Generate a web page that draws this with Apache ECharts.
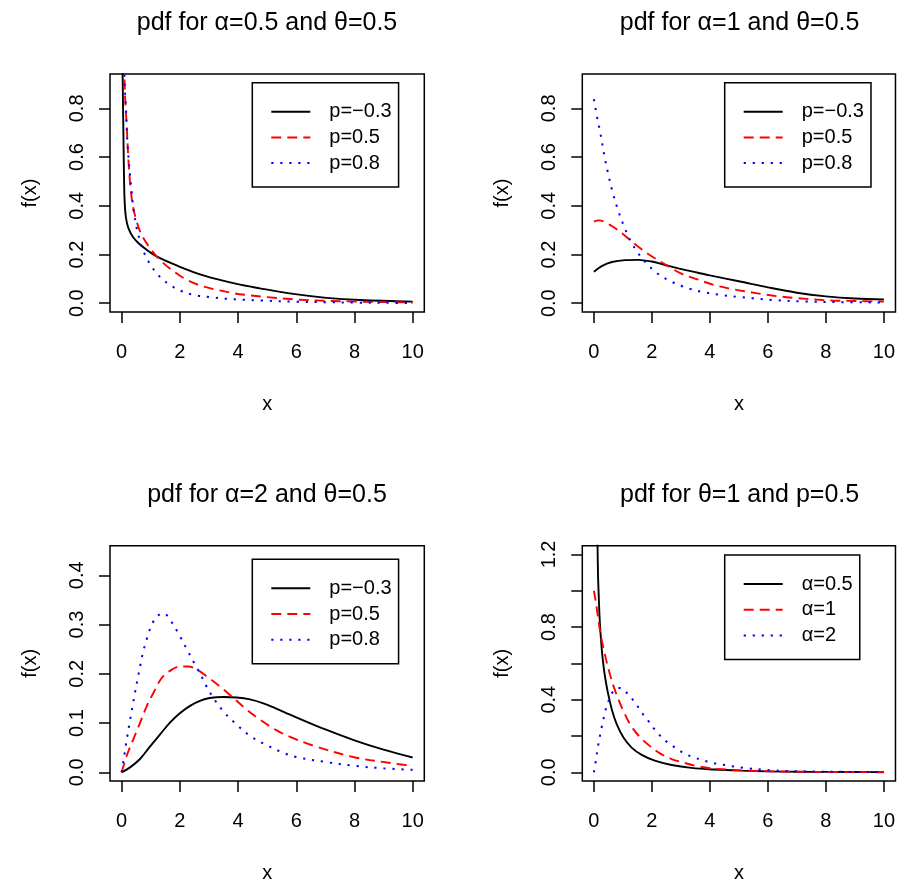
<!DOCTYPE html>
<html>
<head>
<meta charset="utf-8">
<script src="https://cdn.jsdelivr.net/npm/echarts@6/dist/echarts.min.js"></script>
<style>html,body{margin:0;padding:0;background:#fff}#c{width:898px;height:884px}</style>
</head>
<body>
<div id="c"></div>
<script>
// ---------------- data ----------------
const titles = ['pdf for \u03b1=0.5 and \u03b8=0.5', 'pdf for \u03b1=1 and \u03b8=0.5', 'pdf for \u03b1=2 and \u03b8=0.5', 'pdf for \u03b8=1 and p=0.5'];
const legendP = ['p=\u22120.3', 'p=0.5', 'p=0.8'];
const legendA = ['\u03b1=0.5', '\u03b1=1', '\u03b1=2'];
const xTicks = [0, 2, 4, 6, 8, 10];
const yTicksA = [0, 0.2, 0.4, 0.6, 0.8];
const yTicksC = [0, 0.1, 0.2, 0.3, 0.4];
const yTicksD = [0, 0.2, 0.4, 0.6, 0.8, 1.0, 1.2];
const yLabelsD = [0, 0.4, 0.8, 1.2];

// panel 1: alpha=0.5, theta=0.5
const p1Neg03 = [[0.02,1.5],[0.034,0.94],[0.057,0.734],[0.08,0.528],[0.103,0.418],[0.149,0.35],[0.229,0.309],[0.378,0.274],[0.573,0.247],[0.859,0.219],[1.2,0.192],[1.89,0.155],[2.81,0.114],[3.95,0.079],[4.75,0.061],[5.9,0.038],[7.04,0.022],[8.19,0.013],[10,0.0066]];
const p1P05 = [[0.07,1.05],[0.115,0.857],[0.172,0.734],[0.229,0.597],[0.286,0.5],[0.378,0.405],[0.515,0.336],[0.687,0.281],[0.974,0.226],[1.317,0.178],[1.718,0.137],[2.176,0.1],[2.692,0.073],[3.265,0.055],[3.84,0.041],[4.41,0.032],[4.98,0.025],[6,0.015],[7,0.01],[8,0.0065],[9,0.0045],[10,0.003]];
const p1P08 = [[0.08,1.05],[0.103,0.9],[0.149,0.8],[0.195,0.665],[0.286,0.528],[0.344,0.46],[0.4,0.39],[0.515,0.309],[0.573,0.281],[0.687,0.233],[0.859,0.185],[1.03,0.151],[1.2,0.123],[1.43,0.096],[1.66,0.075],[1.95,0.055],[2.46,0.034],[3.04,0.025],[3.61,0.018],[4.18,0.014],[4.75,0.011],[6,0.006],[7,0.004],[8,0.0025],[9,0.0015],[10,0.001]];

// panel 2: alpha=1, theta=0.5
const p2Neg03 = [[0,0.129],[0.27,0.152],[0.62,0.169],[1.08,0.177],[1.53,0.178],[1.99,0.171],[2.45,0.157],[3.02,0.14],[3.59,0.125],[4.0,0.114],[5.0,0.09],[6.0,0.065],[7.0,0.043],[8.0,0.028],[9.0,0.019],[10,0.015]];
const p2P05 = [[0,0.335],[0.16,0.34],[0.62,0.317],[1.08,0.276],[1.53,0.232],[1.99,0.193],[2.56,0.152],[3.02,0.121],[3.59,0.097],[4.16,0.074],[4.73,0.059],[5.3,0.047],[5.87,0.036],[6.44,0.027],[7.01,0.021],[7.65,0.015],[8.22,0.011],[8.79,0.0095],[9.36,0.008],[10,0.0065]];
const p2P08 = [[0,0.838],[0.1,0.77],[0.22,0.7],[0.37,0.6],[0.5,0.527],[0.64,0.458],[0.81,0.39],[1.01,0.324],[1.25,0.259],[1.5,0.21],[1.74,0.173],[2.16,0.125],[2.68,0.088],[3.23,0.062],[3.8,0.045],[4.37,0.034],[4.97,0.026],[5.5,0.02],[6.16,0.013],[7.3,0.007],[8.45,0.0044],[10,0.003]];

// panel 3: alpha=2, theta=0.5
const p3Neg03 = [[0,0],[0.29,0.01],[0.63,0.027],[0.97,0.052],[1.32,0.077],[1.66,0.101],[2.0,0.12],[2.35,0.135],[2.69,0.145],[3.03,0.151],[3.5,0.153],[3.96,0.152],[4.41,0.148],[4.87,0.14],[5.33,0.129],[5.79,0.117],[7,0.087],[8,0.065],[9,0.046],[10,0.03]];
const p3P05 = [[0,0],[0.17,0.033],[0.4,0.067],[0.63,0.1],[0.86,0.134],[1.09,0.161],[1.37,0.191],[1.66,0.206],[2.0,0.215],[2.29,0.215],[2.58,0.209],[2.92,0.195],[3.38,0.174],[3.84,0.151],[4.3,0.127],[4.75,0.107],[5.33,0.085],[5.79,0.072],[6.59,0.054],[7.96,0.031],[9.34,0.018],[10,0.013]];
const p3P08 = [[0,0],[0.06,0.022],[0.11,0.042],[0.19,0.072],[0.29,0.106],[0.38,0.136],[0.46,0.162],[0.55,0.19],[0.65,0.22],[0.74,0.245],[0.86,0.27],[0.95,0.287],[1.06,0.303],[1.26,0.319],[1.45,0.323],[1.66,0.31],[1.95,0.282],[2.23,0.251],[2.52,0.219],[2.75,0.194],[2.92,0.174],[3.21,0.146],[3.55,0.12],[3.95,0.097],[4.41,0.074],[4.92,0.057],[5.5,0.041],[6,0.031],[7,0.021],[8,0.013],[9,0.008],[10,0.005]];

// panel 4: theta=1, p=0.5
const p4A05 = [[0.1,1.6],[0.126,1.25],[0.14,1.1],[0.16,1.0],[0.2,0.84],[0.25,0.72],[0.3,0.63],[0.37,0.54],[0.48,0.44],[0.62,0.345],[0.79,0.264],[1.02,0.191],[1.3,0.136],[1.65,0.096],[2.1,0.064],[2.68,0.04],[3.36,0.024],[4.16,0.015],[5.08,0.009],[6,0.005],[7,0.003],[8,0.002],[10,0.001]];
const p4A1 = [[0,1.0],[0.05,0.955],[0.1,0.9],[0.18,0.81],[0.27,0.727],[0.35,0.67],[0.45,0.6],[0.56,0.536],[0.68,0.473],[0.85,0.4],[1.02,0.336],[1.25,0.264],[1.53,0.204],[1.88,0.151],[2.28,0.104],[2.68,0.073],[3.14,0.051],[3.59,0.033],[4.16,0.02],[4.85,0.013],[5.3,0.009],[6,0.006],[7,0.003],[8,0.0015],[10,0.0005]];
const p4A2 = [[0,0],[0.05,0.045],[0.09,0.091],[0.14,0.142],[0.19,0.185],[0.25,0.236],[0.31,0.276],[0.37,0.324],[0.45,0.367],[0.56,0.415],[0.7,0.453],[0.85,0.464],[1.0,0.46],[1.17,0.43],[1.36,0.396],[1.53,0.358],[1.7,0.318],[1.88,0.282],[2.05,0.245],[2.24,0.209],[2.45,0.176],[2.68,0.149],[2.93,0.122],[3.19,0.098],[3.46,0.082],[3.73,0.067],[4.02,0.055],[4.3,0.045],[4.59,0.038],[4.87,0.031],[5.16,0.025],[6,0.012],[7,0.006],[8,0.003],[10,0.001]];

// ---------------- layout & style ----------------
const FONT = '"Liberation Sans", Arial, Helvetica, sans-serif';
const panels = [
  {left:110, top:74, w:314.3, h:238, ymin:-0.0362, ymax:0.9412, yt:yTicksA, yl:yTicksA, leg:{left:252.3, top:82.7}, names:legendP, data:[p1Neg03,p1P05,p1P08], tx:267, ty:10.5},
  {left:582.3, top:74, w:314.6, h:238, ymin:-0.0362, ymax:0.9412, yt:yTicksA, yl:yTicksA, leg:{left:724.7, top:82.7}, names:legendP, data:[p2Neg03,p2P05,p2P08], tx:739.6, ty:10.5},
  {left:110, top:545.7, w:314.3, h:238.3, ymin:-0.0177, ymax:0.4602, yt:yTicksC, yl:yTicksC, leg:{left:252.3, top:559.3}, names:legendP, data:[p3Neg03,p3P05,p3P08], tx:267, ty:482.5},
  {left:582.3, top:545.7, w:314.6, h:238.3, ymin:-0.048, ymax:1.248, yt:yTicksD, yl:yLabelsD, leg:{left:724.7, top:555}, names:legendA, data:[p4A05,p4A1,p4A2], tx:739.6, ty:482.5}
];
const styles = [
  {color:'#000000', type:'solid', width:1.9},
  {color:'#ff0000', type:[10,6], width:1.9},
  {color:'#0000ff', type:[2.2,6.8], width:2}
];

const grid = [], xAxis = [], yAxis = [], series = [], legend = [], title = [];
panels.forEach((p, i) => {
  grid.push({left:p.left, top:p.top, width:p.w, height:p.h, show:true, borderColor:'#000', borderWidth:1.5, backgroundColor:'transparent', containLabel:false});
  xAxis.push({
    type:'value', gridIndex:i, min:-0.4, max:10.4,
    name:'x', nameLocation:'middle', nameGap:82,
    nameTextStyle:{fontFamily:FONT, fontSize:20, color:'#000'},
    axisLine:{show:false, onZero:false}, splitLine:{show:false},
    axisTick:{show:true, inside:false, length:11, lineStyle:{color:'#000', width:1.5}, customValues:xTicks},
    axisLabel:{show:true, margin:30, fontFamily:FONT, fontSize:20, color:'#000', customValues:xTicks, formatter:v => String(Math.round(v))}
  });
  yAxis.push({
    type:'value', gridIndex:i, min:p.ymin, max:p.ymax,
    name:'f(x)', nameLocation:'middle', nameGap:70, nameRotate:90,
    nameTextStyle:{fontFamily:FONT, fontSize:20, color:'#000'},
    axisLine:{show:false, onZero:false}, splitLine:{show:false},
    axisTick:{show:true, inside:false, length:11, lineStyle:{color:'#000', width:1.5}, customValues:p.yt},
    axisLabel:{show:true, rotate:90, margin:23, fontFamily:FONT, fontSize:20, color:'#000', customValues:p.yl, formatter:v => v.toFixed(1)}
  });
  const legNames = [];
  p.data.forEach((d, k) => {
    const nm = p.names[k] + '#' + i;
    legNames.push(nm);
    series.push({
      type:'line', name:nm, xAxisIndex:i, yAxisIndex:i, data:d,
      symbol:'none', showSymbol:false, smooth:0.35, clip:true, silent:true,
      lineStyle:{color:styles[k].color, width:styles[k].width, type:styles[k].type},
      itemStyle:{color:styles[k].color}
    });
  });
  legend.push({
    left:p.leg.left, top:p.leg.top, orient:'vertical', data:legNames, selectedMode:false,
    formatter:n => n.split('#')[0],
    backgroundColor:'#fff', borderColor:'#000', borderWidth:1.5, borderRadius:0,
    padding:[19, 7, 14, 18], itemWidth:39, itemHeight:14, itemGap:5.7,
    itemStyle:{opacity:0},
    textStyle:{fontFamily:FONT, fontSize:20, color:'#000', lineHeight:20, padding:[0,0,0,14]}
  });
  title.push({text:titles[i], left:p.tx, top:p.ty, textAlign:'center', padding:0,
    textStyle:{fontFamily:FONT, fontSize:25, fontWeight:'normal', color:'#000'}});
});

const chart = echarts.init(document.getElementById('c'), null, {renderer:'canvas'});
chart.setOption({animation:false, backgroundColor:'#fff', title, grid, xAxis, yAxis, legend, series});
</script>
</body>
</html>
